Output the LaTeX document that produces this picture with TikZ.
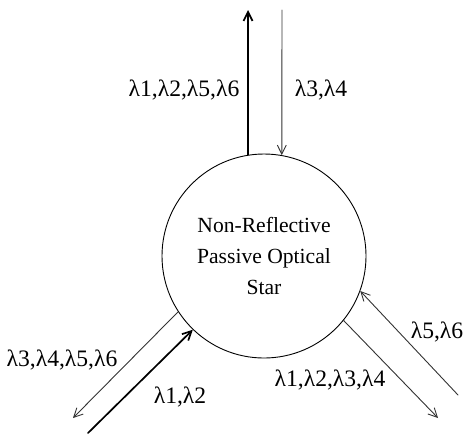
\documentclass[tikz,border=0pt]{standalone}
\usepackage{fontspec}
\setmainfont{Liberation Serif}
\usetikzlibrary{arrows.meta}

\begin{document}
\begin{tikzpicture}[
  x=0.5pt, y=-0.5pt, line cap=round, line join=round,
  fibre/.style={black!80, line width=0.45pt},
  fibrebold/.style={black, line width=0.85pt},
  tip/.style={-{Straight Barb[length=4.5pt,width=4.5pt]}},
  lbl/.style={font=\fontsize{11.8}{15}\selectfont, inner sep=0pt},
]

\path[use as bounding box] (0,0) rectangle (464,435);

% Star coupler
\node[draw, circle, line width=0.45pt, minimum size=102pt, inner sep=0pt,
      font=\fontsize{10.8}{15.3}\selectfont, align=center] (star) at (264,256)
  {Non-Reflective\\Passive Optical\\Star};

% Top port
\coordinate (topout) at (248,10);
\coordinate (topin) at (282,10);
\draw[fibrebold, tip] (star.99) -- (topout);
\draw[fibre, tip] (topin) -- (star.80);
\node[lbl] (topoutlbl) at (184,90) {λ1,λ2,λ5,λ6};
\node[lbl] (topinlbl) at (321,90) {λ3,λ4};

% Left port
\coordinate (leftout) at (73,418);
\coordinate (leftin) at (88,433);
\draw[fibre, tip] (star.213) -- (leftout);
\draw[fibrebold, tip] (leftin) -- (star.226);
\node[lbl] (leftoutlbl) at (62,360) {λ3,λ4,λ5,λ6};
\node[lbl] (leftinlbl) at (180,397) {λ1,λ2};

% Right port
\coordinate (rightout) at (438,418);
\coordinate (rightin) at (458,395);
\draw[fibre, tip] (star.321) -- (rightout);
\draw[fibre, tip] (rightin) -- (star.340);
\node[lbl] (rightoutlbl) at (330,380) {λ1,λ2,λ3,λ4};
\node[lbl] (rightinlbl) at (437,332) {λ5,λ6};

\end{tikzpicture}
\end{document}
